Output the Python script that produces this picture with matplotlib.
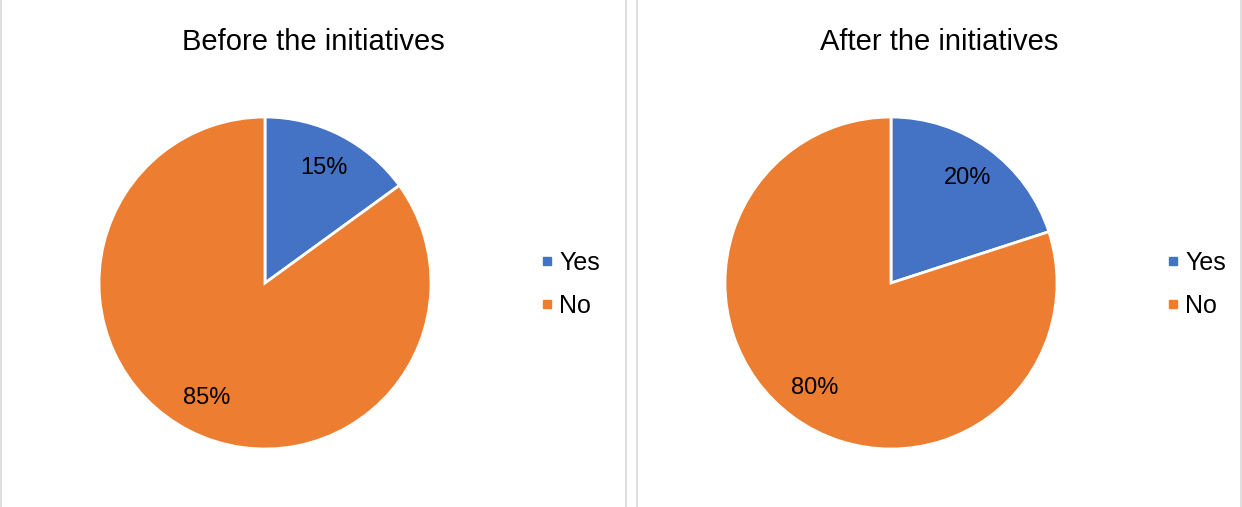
import matplotlib.pyplot as plt
from matplotlib.lines import Line2D
from matplotlib.patches import Rectangle

plt.rcParams['font.family'] = ['Liberation Sans', 'DejaVu Sans']

labels = ['Yes', 'No']
before = [15, 85]
after = [20, 80]
titles = ['Before the initiatives', 'After the initiatives']
colors = ['#4472C4', '#ED7D31']

W, H = 1242, 507
fig = plt.figure(figsize=(W / 100, H / 100), dpi=100)

# panel borders (open at top/bottom like the cropped source)
panels = [(1, 626), (637, 1241)]
for x0, x1 in panels:
    fig.patches.append(Rectangle((x0 / W, -0.05), (x1 - x0) / W, 1.1,
                                 transform=fig.transFigure, fill=False,
                                 edgecolor='#D9D9D9', lw=1.2))

r = 166
for (x0, x1), cx, vals, title, lx in zip(panels, [265, 891], [before, after], titles, [539, 1165]):
    ax = fig.add_axes([(cx - r) / W, (H - 283 - r) / H, 2 * r / W, 2 * r / H])
    ax.pie(vals, colors=colors, startangle=90, counterclock=False,
           autopct='%d%%', pctdistance=0.78,
           wedgeprops=dict(edgecolor='white', linewidth=2),
           textprops=dict(fontsize=17, color='#000000'))
    ax.set_aspect('auto')
    ax.set_xlim(-1, 1)
    ax.set_ylim(-1, 1)
    fig.text((x0 + x1) / 2 / W, 1 - 42 / H, title, ha='center', va='center', fontsize=21)
    handles = [Line2D([], [], marker='s', ls='', color=c, markersize=6) for c in colors]
    fig.legend(handles, labels, loc='upper left', bbox_to_anchor=(lx / W, 1 - 251 / H),
               frameon=False, fontsize=18, handlelength=0.6, handletextpad=0.2,
               labelspacing=0.76, borderpad=0, borderaxespad=0)

fig.savefig('out.png', dpi=100)
